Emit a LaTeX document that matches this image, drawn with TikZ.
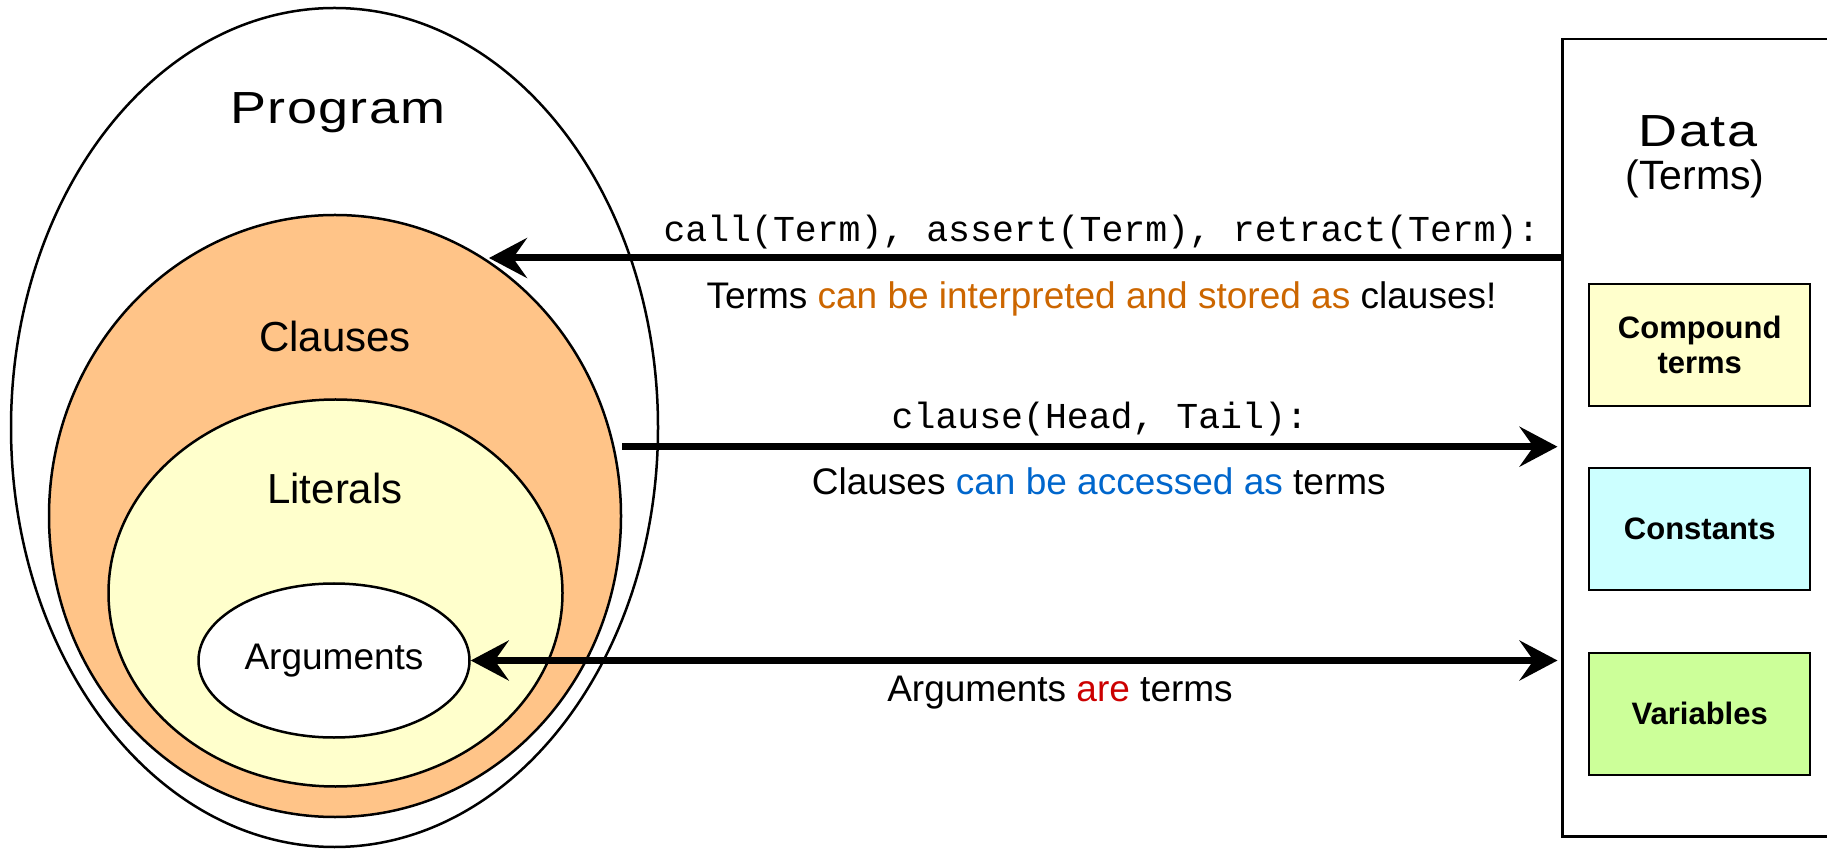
\documentclass[tikz,border=0pt]{standalone}
\usepackage{fontspec}
\setmainfont{Liberation Sans}
\setmonofont{Liberation Mono}
\newfontfamily\widesans[FakeStretch=1.2,LetterSpace=3]{Liberation Sans}
\usetikzlibrary{shapes.geometric,arrows.meta}
\definecolor{clauseorange}{HTML}{FFC488}
\definecolor{lityellow}{HTML}{FFFFCC}
\definecolor{constcyan}{HTML}{CCFFFF}
\definecolor{vargreen}{HTML}{CCFF99}
\definecolor{txtorange}{HTML}{CC6600}
\definecolor{txtblue}{HTML}{0066CC}
\definecolor{txtred}{HTML}{CC0000}
\begin{document}
\begin{tikzpicture}[x=1pt,y=1pt,
  setell/.style={ellipse, draw=black, line width=2.5pt, inner sep=0pt},
  typebox/.style={rectangle, draw=black, line width=2pt, minimum width=221pt,
    minimum height=122pt, align=center, inner sep=0pt,
    font=\fontsize{31}{35}\selectfont\bfseries},
  setlabel/.style={anchor=base, font=\fontsize{42}{48}\selectfont},
  codelabel/.style={anchor=base, font=\fontsize{36.5}{42}\selectfont\ttfamily},
  notelabel/.style={anchor=base, font=\fontsize{37}{42}\selectfont},
  bigtip/.tip={Stealth[length=38pt,width=40pt,inset=14pt]},
  bigarrow/.style={line width=7pt, -bigtip},
  bigboth/.style={line width=7pt, bigtip-bigtip}
]
\useasboundingbox (0,0) rectangle (1827,849);

% Program side
\node[setell, fill=white, minimum width=647pt, minimum height=839pt] (program) at (334.5,421.5) {};
\node[setell, fill=clauseorange, minimum width=572pt, minimum height=602pt] (clauses) at (335,333) {};
\node[setell, fill=lityellow, minimum width=454pt, minimum height=387pt] (literals) at (335.5,256) {};
\node[setell, fill=white, minimum width=271pt, minimum height=154pt,
      font=\fontsize{37}{42}\selectfont] (args) at (334,188.5) {Arguments};

\node[anchor=base, font=\fontsize{45}{50}\selectfont\widesans] (programlbl) at (338,725.6) {Program};
\node[setlabel] (clauseslbl) at (335,497) {Clauses};
\node[setlabel] (literalslbl) at (335,345.5) {Literals};

% Data side
\node[minimum width=264.3pt, minimum height=797.5pt, inner sep=0pt] (data) at (1694.85,411.25) {};
\draw[line width=2.5pt] (data.north east) -- (data.north west) -- (data.south west) -- (data.south east);
\node[anchor=base, font=\fontsize{45}{50}\selectfont\widesans] (datalbl) at (1698,702) {Data};
\node[anchor=base, font=\fontsize{41}{46}\selectfont] (termslbl) at (1695,659.5) {(Terms)};

\node[typebox, fill=lityellow] (compound) at (1699.7,504) {Compound\\terms};
\node[typebox, fill=constcyan] (constants) at (1699.7,320) {Constants};
\node[typebox, fill=vargreen] (variables) at (1699.7,135.5) {Variables};

% Connectors
\coordinate (dataedge) at ([xshift=-5pt]data.west);
\coordinate (clausehit) at (489,591);
\coordinate (clauseout) at (622,402.3);

\draw[bigarrow] (data.west |- clausehit) -- (clausehit);
\draw[bigarrow] (clauseout) -- (dataedge |- clauseout);
\draw[bigboth] (args.east) -- (dataedge |- args.east);

% Connector labels
\node[codelabel] (calltxt) at (1101.6,607.3) {call(Term), assert(Term), retract(Term):};
\node[notelabel] (termsnote) at (1101.5,540.7) {Terms \textcolor{txtorange}{can be interpreted and stored as} clauses!};
\node[codelabel] (clausetxt) at (1099.8,420.7) {clause(Head, Tail):};
\node[notelabel] (clausesnote) at (1098.8,354) {Clauses \textcolor{txtblue}{can be accessed as} terms};
\node[notelabel] (argsnote) at (1060,147.3) {Arguments \textcolor{txtred}{are} terms};
\end{tikzpicture}
\end{document}
